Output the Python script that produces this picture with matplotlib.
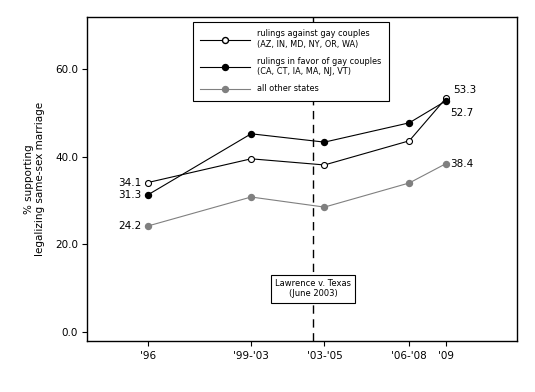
import matplotlib
matplotlib.use("Agg")
import matplotlib.pyplot as plt
from matplotlib.lines import Line2D

# survey periods (approximate mean year of each pooled period)
periods = ["'96", "'99-'03", "'03-'05", "'06-'08", "'09"]
years = [1996, 2000.5, 2003.7, 2007.4, 2009]

against = [34.1, 39.5, 38.1, 43.6, 53.3]
favor = [31.3, 45.2, 43.3, 47.7, 52.7]
others = [24.2, 30.8, 28.5, 34.0, 38.4]

lawrence_year = 2003.2
yticks = [0, 20, 40, 60]

plt.rcParams['font.family'] = ['DejaVu Sans']

fig = plt.figure(figsize=(5.35, 3.92), dpi=100)
ax = fig.add_axes([0.1626, 0.1301, 0.8038, 0.8265])

gray = '#808080'
ms = 4.3
ax.axvline(lawrence_year, color='black', lw=1.0, ls=(0, (6, 4)), zorder=1)

ax.plot(years, against, color='black', lw=0.8, marker='o', ms=ms,
        mfc='white', mec='black', mew=0.8, zorder=3)
ax.plot(years, favor, color='black', lw=0.8, marker='o', ms=ms,
        mfc='black', mec='black', zorder=3)
ax.plot(years, others, color=gray, lw=0.8, marker='o', ms=ms,
        mfc=gray, mec=gray, zorder=2)

fs = 7.5
# end labels
ax.annotate('%.1f' % against[0], (years[0], against[0]), xytext=(-5, 0),
            textcoords='offset points', ha='right', va='center', fontsize=fs)
ax.annotate('%.1f' % favor[0], (years[0], favor[0]), xytext=(-5, 0),
            textcoords='offset points', ha='right', va='center', fontsize=fs)
ax.annotate('%.1f' % others[0], (years[0], others[0]), xytext=(-5, 0),
            textcoords='offset points', ha='right', va='center', fontsize=fs)
ax.annotate('%.1f' % against[-1], (years[-1], against[-1]), xytext=(5, 2),
            textcoords='offset points', ha='left', va='bottom', fontsize=fs)
ax.annotate('%.1f' % favor[-1], (years[-1], favor[-1]), xytext=(3, -5),
            textcoords='offset points', ha='left', va='top', fontsize=fs)
ax.annotate('%.1f' % others[-1], (years[-1], others[-1]), xytext=(3, 0),
            textcoords='offset points', ha='left', va='center', fontsize=fs)

ax.text(lawrence_year, 9.9, 'Lawrence v. Texas\n(June 2003)', ha='center',
        va='center', fontsize=6.0, zorder=4,
        bbox=dict(boxstyle='square,pad=0.5', fc='white', ec='black', lw=0.8))

handles = [
    Line2D([], [], color='black', lw=0.8, marker='o', ms=ms, mfc='white', mec='black'),
    Line2D([], [], color='black', lw=0.8, marker='o', ms=ms, mfc='black', mec='black'),
    Line2D([], [], color=gray, lw=0.8, marker='o', ms=ms, mfc=gray, mec=gray),
]
labels = ['rulings against gay couples\n(AZ, IN, MD, NY, OR, WA)',
          'rulings in favor of gay couples\n(CA, CT, IA, MA, NJ, VT)',
          'all other states']
leg = ax.legend(handles, labels, loc='upper left', bbox_to_anchor=(0.2465, 0.985),
                fontsize=5.9, frameon=True, fancybox=False, edgecolor='black',
                handlelength=6.0, handletextpad=0.9, labelspacing=1.0,
                borderpad=0.9, borderaxespad=0, framealpha=1)
leg.get_frame().set_linewidth(0.8)
leg.set_zorder(5)

ax.set_xlim(1993.34, 2012.1)
ax.set_ylim(-2.0, 71.8)
ax.set_xticks(years)
ax.set_xticklabels(periods)
ax.set_yticks(yticks)
ax.set_yticklabels(['%.1f' % v for v in yticks])
ax.tick_params(direction='out', length=3.5, width=0.8, labelsize=fs, pad=3)
ax.tick_params(axis='x', pad=4)
for s in ax.spines.values():
    s.set_linewidth(1.0)

ax.set_ylabel('% supporting\nlegalizing same-sex marriage', fontsize=fs, labelpad=7)

fig.savefig('out.png', dpi=100)
